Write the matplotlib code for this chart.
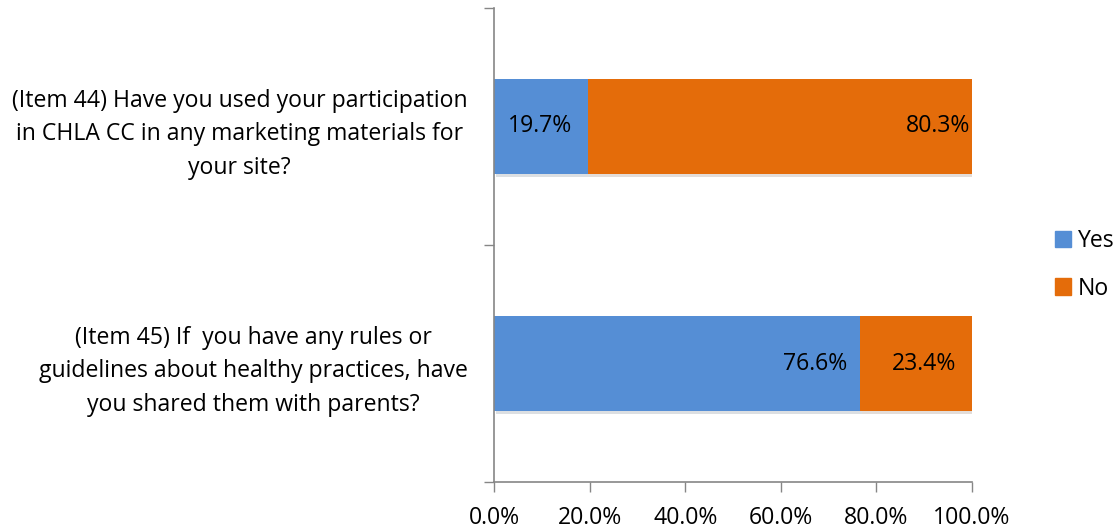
import matplotlib
matplotlib.use("Agg")
import matplotlib.pyplot as plt
import matplotlib.patheffects as pe
from matplotlib.patches import Patch
import numpy as np

# data
questions = [
    "(Item 45) If  you have any rules or\nguidelines about healthy practices, have\nyou shared them with parents?",
    "(Item 44) Have you used your participation\nin CHLA CC in any marketing materials for\nyour site?",
]
yes_pct = [76.6, 19.7]
no_pct = [23.4, 80.3]
series_names = ["Yes", "No"]
series_colors = ["#558ED5", "#E46C0A"]
x_ticks = [0, 20, 40, 60, 80, 100]

# where the value labels sit in the original (hand placed, in axis units)
label_x = {"Yes": [67.2, 9.6], "No": [90.0, 93.0]}

plt.rcParams["font.family"] = ["Open Sans", "DejaVu Sans"]
fs = 16.6

W, H = 1116, 529
fig = plt.figure(figsize=(W / 100, H / 100), dpi=100)
ax = fig.add_axes([494 / W, 1 - 482 / H, (972 - 494) / W, (482 - 8) / H])

y = np.arange(len(questions))
shadow = [pe.SimplePatchShadow(offset=(1.5, -2), alpha=0.15), pe.Normal()]

lefts = np.zeros(len(questions))
for vals, name, col in zip([yes_pct, no_pct], series_names, series_colors):
    bars = ax.barh(y, vals, left=lefts, height=0.4, color=col, label=name)
    for b in bars:
        b.set_path_effects(shadow)
    for yi, lx, v in zip(y, label_x[name], vals):
        ax.text(lx, yi, "%.1f%%" % v, ha="center", va="center", fontsize=fs, color="black")
    lefts = lefts + np.array(vals)

ax.set_xlim(0, 100)
ax.set_ylim(-0.5, len(questions) - 0.5)
ax.set_xticks(x_ticks)
ax.set_xticklabels(["%.1f%%" % t for t in x_ticks], fontsize=fs)
ax.tick_params(axis="x", length=7, width=1, color="#868686", pad=10)

# category boundaries get tick marks, labels sit on the minor ticks
ax.set_yticks(np.arange(-0.5, len(questions), 1.0))
ax.set_yticklabels([])
ax.tick_params(axis="y", which="major", length=7, width=1, color="#868686")
ax.set_yticks(y, minor=True)
ax.set_yticklabels(questions, minor=True, fontsize=fs, multialignment="center", linespacing=1.55)
ax.tick_params(axis="y", which="minor", length=0, pad=19)

for s in ["top", "right"]:
    ax.spines[s].set_visible(False)
for s in ["left", "bottom"]:
    ax.spines[s].set_color("#868686")
    ax.spines[s].set_linewidth(1.2)

handles = [Patch(color=c) for c in series_colors]
fig.legend(handles, series_names, loc="center left", bbox_to_anchor=(1055 / W, 1 - 265 / H),
           frameon=False, fontsize=fs, handlelength=0.7, handleheight=0.7,
           handletextpad=0.3, labelspacing=1.0, borderpad=0, borderaxespad=0)

fig.savefig("out.png", dpi=100)
